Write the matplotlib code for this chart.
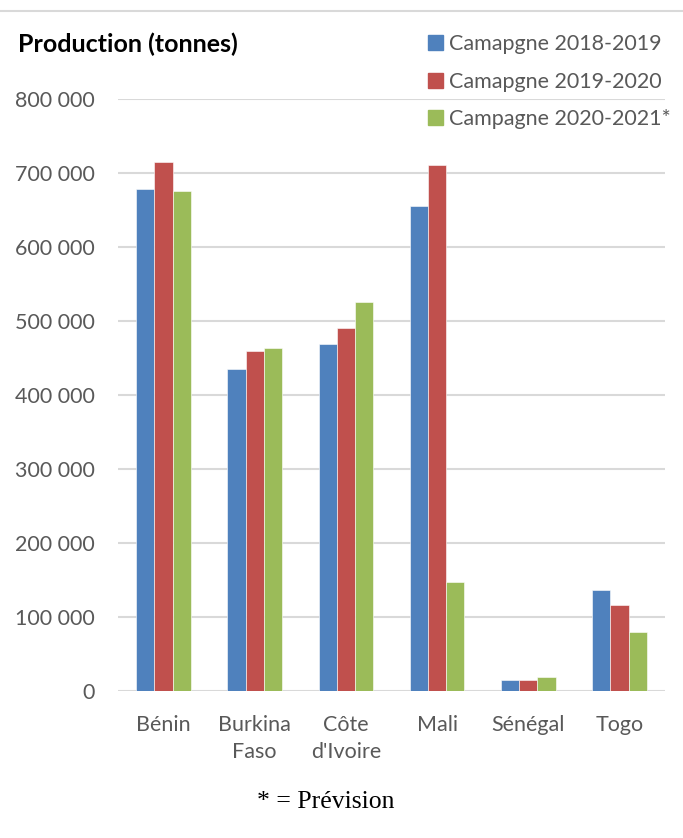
import matplotlib
matplotlib.use("Agg")
import matplotlib.pyplot as plt
from matplotlib.lines import Line2D
from matplotlib.patches import Rectangle
import numpy as np

categories = ["Bénin", "Burkina\nFaso", "Côte\nd'Ivoire", "Mali", "Sénégal", "Togo"]
series_names = ["Camapgne 2018-2019", "Camapgne 2019-2020", "Campagne 2020-2021*"]
s2018 = [678000, 435000, 469000, 656000, 15000, 137000]
s2019 = [715000, 459000, 490000, 711000, 15500, 116000]
s2020 = [676000, 464000, 525000, 147000, 19500, 80000]
yticks = [0, 100000, 200000, 300000, 400000, 500000, 600000, 700000, 800000]
ytick_labels = ["0", "100 000", "200 000", "300 000", "400 000", "500 000",
                "600 000", "700 000", "800 000"]
colors = ["#4F81BD", "#C0504D", "#9BBB59"]

plt.rcParams['font.family'] = ['Lato', 'DejaVu Sans']

W, H = 683, 838
fig = plt.figure(figsize=(W / 100, H / 100), dpi=100)
ax = fig.add_axes([118 / W, 1 - 691 / H, (665 - 118) / W, (691 - 99) / H])

x = np.arange(len(categories))
bw = 0.2
for i, (vals, c, name) in enumerate(zip([s2018, s2019, s2020], colors, series_names)):
    ax.bar(x + (i - 1) * bw, vals, width=bw, color=c, edgecolor="white",
           linewidth=0.4, label=name, zorder=3)

ax.set_xlim(-0.5, len(categories) - 0.5)
ax.set_ylim(0, 800000)
ax.set_yticks(yticks)
ax.set_yticklabels(ytick_labels)
ax.set_xticks(x)
ax.set_xticklabels(categories, linespacing=1.45)
ax.yaxis.grid(True, color="#d9d9d9", linewidth=1.5, zorder=0)
ax.set_axisbelow(True)
for s in ax.spines.values():
    s.set_visible(False)
ax.tick_params(axis="y", length=0, pad=17, labelsize=15.5, labelcolor="#595959")
ax.tick_params(axis="x", length=0, pad=17, labelsize=15.5, labelcolor="#595959")
for lab in ax.get_xticklabels():
    lab.set_verticalalignment("top")

fig.text(18 / W, 1 - 44 / H, "Production (tonnes)", fontsize=18, fontweight="bold",
         color="black", ha="left", va="center")

# legend
handles = [Rectangle((0, 0), 1, 1, color=c) for c in colors]
leg = fig.legend(handles, series_names, loc="upper left",
                 bbox_to_anchor=(428 / W, 1 - 34 / H), frameon=False,
                 fontsize=15.5, labelcolor="#595959", handlelength=0.68,
                 handleheight=0.68, handletextpad=0.3, labelspacing=0.82,
                 borderpad=0, borderaxespad=0)

fig.text(326 / W, 1 - 802 / H, "* = Prévision", fontsize=18.5,
         family=["Liberation Serif", "DejaVu Serif"], color="black",
         ha="center", va="center")

fig.add_artist(Line2D([0, 1], [1 - 11 / H, 1 - 11 / H], color="#d9d9d9",
                      linewidth=1.5, transform=fig.transFigure))

fig.savefig("out.png", dpi=100)
